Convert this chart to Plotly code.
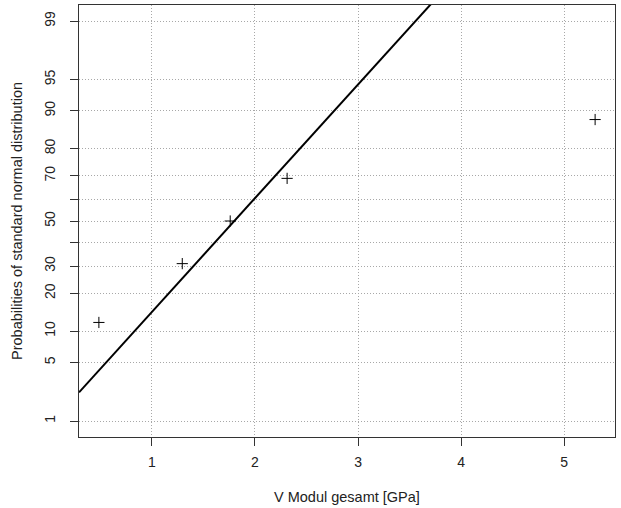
import plotly.graph_objects as go
from statistics import NormalDist

# ---- data ----
modulus_gpa = [0.486, 1.295, 1.76, 2.312, 5.30]
probabilities = [0.119, 0.310, 0.500, 0.690, 0.881]

fit_mean = 1.80
fit_sd = 0.756

prob_ticks = [1, 5, 10, 20, 30, 40, 50, 60, 70, 80, 90, 95, 99]
prob_tick_labels = ["1", "5", "10", "20", "30", "", "50", "", "70", "80", "90", "95", "99"]
x_ticks = [1, 2, 3, 4, 5]

x_range = [0.293, 5.493]
prob_range = [0.01, 0.99]

nd = NormalDist()
z = lambda p: nd.inv_cdf(p)

# y range: 4% extension of the probit range (R style)
z_lo, z_hi = z(prob_range[0]), z(prob_range[1])
ext = (z_hi - z_lo) * 0.04
y_range = [z_lo - ext, z_hi + ext]

pts_z = [z(p) for p in probabilities]

# fitted normal line across the x range
n = 200
line_x = [x_range[0] + (x_range[1] - x_range[0]) * i / (n - 1) for i in range(n)]
line_z = [(x - fit_mean) / fit_sd for x in line_x]

fig = go.Figure()
fig.add_trace(go.Scatter(x=line_x, y=line_z, mode="lines",
                         line=dict(color="black", width=2), hoverinfo="skip",
                         showlegend=False))
fig.add_trace(go.Scatter(x=modulus_gpa, y=pts_z, mode="markers",
                         marker=dict(symbol="cross-thin", size=8,
                                     line=dict(color="black", width=1)),
                         showlegend=False))

font_family = "Liberation Sans, Arial, sans-serif"
grid_dash = "1px,2px"
fig.update_layout(
    width=621, height=508,
    margin=dict(l=79, r=5.5, t=4.7, b=71.3),
    paper_bgcolor="white", plot_bgcolor="white",
    font=dict(family=font_family, size=14, color="#222"),
)
fig.update_xaxes(
    range=x_range, tickvals=x_ticks, ticktext=[str(t) for t in x_ticks],
    showline=True, linecolor="#333", linewidth=1, mirror=True,
    ticks="outside", ticklen=8, tickcolor="#333", tickwidth=1,
    showgrid=True, gridcolor="#a8a8a8", griddash=grid_dash, gridwidth=1,
    zeroline=False, tickfont=dict(size=14), ticklabelstandoff=4,
)
fig.update_yaxes(
    range=y_range, tickvals=[z(p / 100) for p in prob_ticks], ticktext=prob_tick_labels,
    tickangle=-90,
    showline=True, linecolor="#333", linewidth=1, mirror=True,
    ticks="outside", ticklen=8, tickcolor="#333", tickwidth=1,
    showgrid=True, gridcolor="#a8a8a8", griddash=grid_dash, gridwidth=1,
    zeroline=False, tickfont=dict(size=14), ticklabelstandoff=9,
)
fig.add_annotation(text="V Modul gesamt [GPa]", xref="paper", yref="paper",
                   x=0.5, y=0, yanchor="middle", yshift=-60.3, showarrow=False,
                   font=dict(size=14.5, color="#222"))
fig.add_annotation(text="Probabilities of standard normal distribution", xref="paper",
                   yref="paper", x=0, y=0.5, xanchor="center", xshift=-62,
                   textangle=-90, showarrow=False, font=dict(size=14.5, color="#222"))

fig.write_html("out.html", config={"displayModeBar": False},
               post_script="document.body.style.margin='0';document.body.style.padding='0';")
